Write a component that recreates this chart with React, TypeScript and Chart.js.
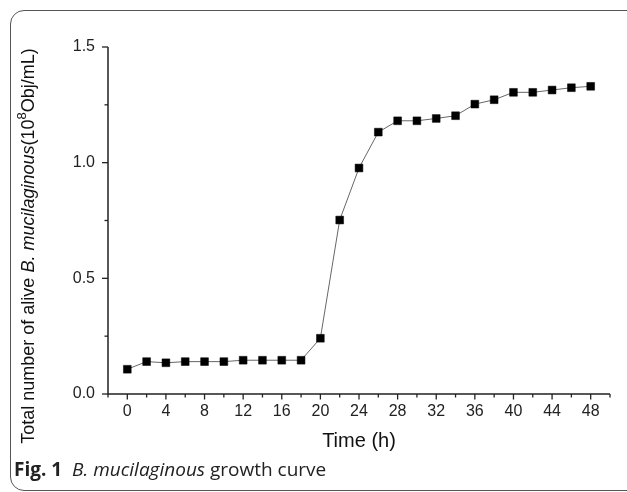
import React, { useEffect, useRef } from "react";
import { Chart, registerables } from "chart.js";

Chart.register(...registerables);

// Data
const timeHours = [0, 2, 4, 6, 8, 10, 12, 14, 16, 18, 20, 22, 24, 26, 28, 30, 32, 34, 36, 38, 40, 42, 44, 46, 48];
const aliveCounts = [0.107, 0.140, 0.135, 0.140, 0.140, 0.140, 0.146, 0.146, 0.146, 0.146, 0.241, 0.752, 0.977, 1.132, 1.181, 1.181, 1.191, 1.203, 1.253, 1.272, 1.304, 1.304, 1.314, 1.324, 1.330];
const xMin = -2;
const xMax = 50;
const yMin = 0;
const yMax = 1.5;
const xTickStep = 2;
const yTickStep = 0.25;
const xLabelEvery = 4;
const yLabelEvery = 0.5;
const xTitle = "Time (h)";
const yTitleParts = [
  { text: "Total number of alive ", style: "normal" },
  { text: "B. mucilaginous", style: "italic" },
  { text: "(10", style: "normal" },
  { text: "8", style: "sup" },
  { text: "Obj/mL)", style: "normal" },
];

const FONT = "'Liberation Sans', Arial, sans-serif";

const axesPlugin = {
  id: "axesPlugin",
  beforeDatasetsDraw(chart: any) {
    const ctx = chart.ctx;
    const xs = chart.scales.x;
    const ys = chart.scales.y;
    const left = xs.getPixelForValue(xMin);
    const right = xs.getPixelForValue(xMax);
    const bottom = ys.getPixelForValue(yMin);
    const top = ys.getPixelForValue(yMax);
    ctx.save();
    ctx.strokeStyle = "#222";
    ctx.lineWidth = 1.5;
    ctx.beginPath();
    ctx.moveTo(left, top);
    ctx.lineTo(left, bottom);
    ctx.lineTo(right, bottom);
    ctx.stroke();
    ctx.lineWidth = 1.3;
    for (let v = xMin; v <= xMax + 1e-9; v += xTickStep) {
      const px = xs.getPixelForValue(v);
      const major = Math.abs(v % xLabelEvery) < 1e-9;
      ctx.beginPath();
      ctx.moveTo(px, bottom);
      ctx.lineTo(px, bottom + (major ? 5.5 : 3.5));
      ctx.stroke();
    }
    for (let v = yMin; v <= yMax + 1e-9; v += yTickStep) {
      const py = ys.getPixelForValue(v);
      const r = v / yLabelEvery;
      const major = Math.abs(r - Math.round(r)) < 1e-9;
      ctx.beginPath();
      ctx.moveTo(left, py);
      ctx.lineTo(left - (major ? 6 : 3.5), py);
      ctx.stroke();
    }
    ctx.restore();
  },
  afterDraw(chart: any) {
    const ctx = chart.ctx;
    const xs = chart.scales.x;
    ctx.save();
    ctx.fillStyle = "#111";
    ctx.font = `20px ${FONT}`;
    ctx.textAlign = "center";
    ctx.textBaseline = "middle";
    const cx = (xs.getPixelForValue(xMin) + xs.getPixelForValue(xMax)) / 2;
    ctx.fillText(xTitle, cx, 441);
    const size = 18;
    const fontFor = (s: string) =>
      s === "italic" ? `italic ${size}px ${FONT}` : s === "sup" ? `${Math.round(size * 0.7)}px ${FONT}` : `${size}px ${FONT}`;
    let total = 0;
    for (const p of yTitleParts) {
      ctx.font = fontFor(p.style);
      total += ctx.measureText(p.text).width;
    }
    ctx.translate(34, 246);
    ctx.rotate(-Math.PI / 2);
    ctx.textAlign = "left";
    ctx.textBaseline = "alphabetic";
    let pos = -total / 2;
    for (const p of yTitleParts) {
      ctx.font = fontFor(p.style);
      const yOff = p.style === "sup" ? -size * 0.42 : 0;
      ctx.fillText(p.text, pos, yOff);
      pos += ctx.measureText(p.text).width;
    }
    ctx.restore();
  },
};

export default function App() {
  const ref = useRef<HTMLCanvasElement | null>(null);
  useEffect(() => {
    if (!ref.current) return;
    const chart = new Chart(ref.current, {
      type: "line",
      data: {
        datasets: [
          {
            data: timeHours.map((t, i) => ({ x: t, y: aliveCounts[i] })),
            borderColor: "#666",
            borderWidth: 1,
            pointStyle: "rect",
            pointRadius: 5.5,
            pointBackgroundColor: "#000",
            pointBorderColor: "#000",
            pointBorderWidth: 0.5,
            tension: 0,
          },
        ],
      },
      options: {
        animation: false,
        responsive: false,
        events: [],
        layout: { padding: { top: 47, right: 17, left: 0, bottom: 0 } },
        plugins: { legend: { display: false }, tooltip: { enabled: false }, title: { display: false } },
        scales: {
          x: {
            type: "linear",
            min: xMin,
            max: xMax,
            grid: { display: false, drawTicks: false },
            border: { display: false },
            ticks: {
              stepSize: xTickStep,
              autoSkip: false,
              maxRotation: 0,
              padding: 8,
              color: "#222",
              font: { size: 16, family: FONT },
              callback: (v: any) => (v >= 0 && v <= 48 && v % xLabelEvery === 0 ? String(v) : ""),
            },
            afterFit: (s: any) => {
              s.height = 98;
            },
          },
          y: {
            min: yMin,
            max: yMax,
            grid: { display: false, drawTicks: false },
            border: { display: false },
            ticks: {
              stepSize: yTickStep,
              autoSkip: false,
              padding: 13,
              color: "#222",
              font: { size: 16, family: FONT },
              callback: (v: any) => {
                const r = v / yLabelEvery;
                return Math.abs(r - Math.round(r)) < 1e-9 ? Number(v).toFixed(1) : "";
              },
            },
            afterFit: (s: any) => {
              s.width = 108;
            },
          },
        },
      },
      plugins: [axesPlugin],
    } as any);
    return () => chart.destroy();
  }, []);

  return (
    <div style={{ position: "absolute", left: 0, top: 0, width: 627, height: 492, overflow: "hidden", background: "#fff" }}>
      <div
        style={{
          position: "absolute",
          left: 10,
          top: 10,
          width: 700,
          height: 479,
          border: "1.5px solid #555",
          borderRadius: 14,
        }}
      />
      <canvas ref={ref} width={627} height={492} style={{ position: "absolute", left: 0, top: 0 }} />
      <div
        style={{
          position: "absolute",
          left: 14,
          top: 458,
          fontFamily: "'Open Sans', 'Noto Sans', sans-serif",
          fontSize: 19,
          lineHeight: "22px",
          color: "#222",
          whiteSpace: "nowrap",
        }}
      >
        <span style={{ fontWeight: 700 }}>Fig. 1</span>
        <span>&nbsp;&nbsp;</span>
        <span style={{ fontStyle: "italic" }}>B. mucilaginous</span>
        <span> growth curve</span>
      </div>
    </div>
  );
}
